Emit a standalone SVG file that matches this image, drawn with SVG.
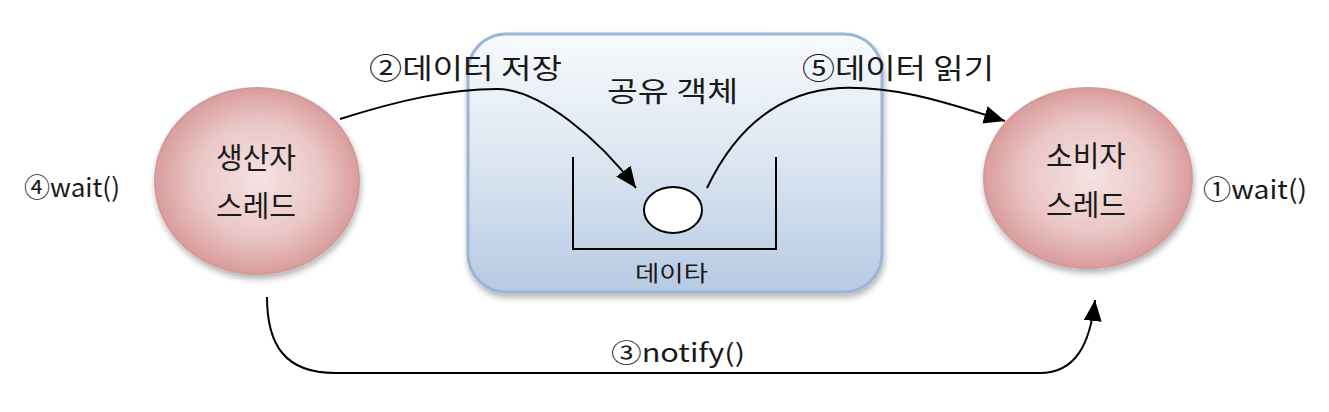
<svg xmlns="http://www.w3.org/2000/svg" width="1329" height="412" viewBox="0 0 1329 412">
  <defs>
    <radialGradient id="pink" cx="50%" cy="50%" r="55%" fx="52%" fy="48%">
      <stop offset="0" stop-color="#f5e3e3"/>
      <stop offset="0.55" stop-color="#ebc7c7"/>
      <stop offset="1" stop-color="#d69292"/>
    </radialGradient>
    <linearGradient id="blue" x1="0" y1="0" x2="0" y2="1">
      <stop offset="0" stop-color="#f8fafd"/>
      <stop offset="0.5" stop-color="#dbe5f1"/>
      <stop offset="1" stop-color="#b6cae3"/>
    </linearGradient>
    <filter id="shadow" x="-10%" y="-10%" width="125%" height="130%">
      <feGaussianBlur in="SourceAlpha" stdDeviation="3"/>
      <feOffset dx="1" dy="4" result="b"/>
      <feComponentTransfer><feFuncA type="linear" slope="0.3"/></feComponentTransfer>
      <feMerge><feMergeNode/><feMergeNode in="SourceGraphic"/></feMerge>
    </filter>
    <marker id="arrow" markerUnits="userSpaceOnUse" markerWidth="22" markerHeight="20" viewBox="0 0 22 20" refX="21" refY="10" orient="auto">
      <path d="M0,1 L21,10 L0,19 Z" fill="#000"/>
    </marker>
    <style>
      .lbl { font-family: "Noto Sans CJK KR", "Noto Sans", sans-serif; fill: #1a1a1a; }
      .thread { stroke: #d49a9a; stroke-width: 2; fill: url(#pink); }
      .conn { fill: none; stroke: #000; stroke-width: 2; }
    </style>
  </defs>

  <g id="shared-object">
    <rect x="468" y="34" width="414" height="258" rx="38" ry="38" fill="url(#blue)" stroke="#9cb5d5" stroke-width="3" filter="url(#shadow)"/>
    <text class="lbl" x="607" y="102" font-size="28" textLength="131" lengthAdjust="spacingAndGlyphs">공유 객체</text>
  </g>

  <g id="data-bucket">
    <polyline points="573,157 573,249 776,249 776,157" fill="none" stroke="#000" stroke-width="2"/>
    <ellipse cx="673" cy="210" rx="29" ry="23" fill="#fff" stroke="#000" stroke-width="2"/>
    <text class="lbl" x="635" y="281" font-size="22" textLength="73" lengthAdjust="spacingAndGlyphs">데이타</text>
  </g>

  <g id="producer">
    <ellipse class="thread" cx="257" cy="181" rx="102" ry="93" filter="url(#shadow)"/>
    <text class="lbl" x="256" y="169" font-size="29" text-anchor="middle">생산자</text>
    <text class="lbl" x="256" y="217" font-size="29" text-anchor="middle">스레드</text>
  </g>

  <g id="consumer">
    <ellipse class="thread" cx="1088" cy="178" rx="104" ry="90" filter="url(#shadow)"/>
    <text class="lbl" x="1086" y="167" font-size="29" text-anchor="middle">소비자</text>
    <text class="lbl" x="1086" y="216" font-size="29" text-anchor="middle">스레드</text>
  </g>

  <g id="connectors">
    <path class="conn" d="M340,119 C400,100 450,89 497,89 C540,89 600,140 636,188" marker-end="url(#arrow)"/>
    <path class="conn" d="M707,188 C730,140 770,92 840,88 C900,86 950,104 1005,121" marker-end="url(#arrow)"/>
    <path class="conn" d="M267,297 C267,345 285,373 335,373 L1040,373 C1075,373 1090,345 1095,300" marker-end="url(#arrow)"/>
  </g>

  <g id="labels">
    <text class="lbl" x="369" y="79" font-size="28" textLength="193" lengthAdjust="spacingAndGlyphs">②데이터 저장</text>
    <text class="lbl" x="802" y="79" font-size="28" textLength="192" lengthAdjust="spacingAndGlyphs">⑤데이터 읽기</text>
    <text class="lbl" x="611" y="362" font-size="25" textLength="134" lengthAdjust="spacingAndGlyphs">③notify()</text>
    <text class="lbl" x="24" y="197" font-size="26" textLength="96" lengthAdjust="spacingAndGlyphs">④wait()</text>
    <text class="lbl" x="1203" y="199" font-size="26" textLength="104" lengthAdjust="spacingAndGlyphs">①wait()</text>
  </g>
</svg>
